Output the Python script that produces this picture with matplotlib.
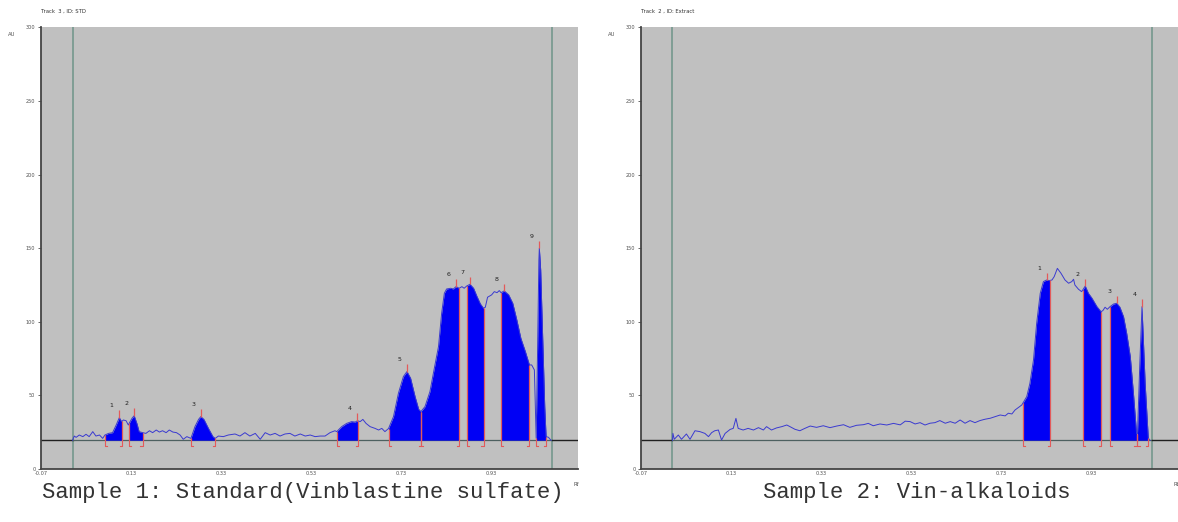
import numpy as np
import matplotlib
matplotlib.use("Agg")
import matplotlib.pyplot as plt

# densitogram readings (Rf, AU)
s1_rf = [0.000, 0.004, 0.008, 0.015, 0.023, 0.030, 0.037, 0.045, 0.052, 0.060,
         0.067, 0.072, 0.080, 0.089, 0.097, 0.104, 0.109, 0.113, 0.119, 0.124,
         0.132, 0.137, 0.143, 0.148, 0.156, 0.163, 0.171, 0.178, 0.186, 0.193,
         0.200, 0.208, 0.215, 0.223, 0.231, 0.239, 0.246, 0.254, 0.263, 0.272,
         0.280, 0.285, 0.292, 0.302, 0.312, 0.317, 0.324, 0.335, 0.346, 0.361,
         0.372, 0.383, 0.394, 0.406, 0.417, 0.428, 0.439, 0.450, 0.461, 0.472,
         0.483, 0.494, 0.506, 0.517, 0.528, 0.539, 0.550, 0.561, 0.572, 0.583,
         0.587, 0.598, 0.609, 0.620, 0.628, 0.633, 0.639, 0.645, 0.652, 0.661,
         0.672, 0.680, 0.687, 0.694, 0.702, 0.713, 0.724, 0.735, 0.743, 0.751,
         0.761, 0.769, 0.774, 0.783, 0.794, 0.803, 0.813, 0.820, 0.826, 0.831,
         0.840, 0.846, 0.852, 0.859, 0.865, 0.870, 0.876, 0.883, 0.891, 0.898,
         0.906, 0.913, 0.917, 0.922, 0.931, 0.937, 0.943, 0.948, 0.952, 0.959,
         0.969, 0.978, 0.987, 0.996, 1.006, 1.015, 1.020, 1.026, 1.029, 1.030,
         1.033, 1.036, 1.037, 1.040, 1.045, 1.049, 1.052, 1.057, 1.063]
s1_au = [19.5, 22.4, 21.5, 23.1, 22.0, 23.6, 22.0, 25.4, 22.4, 23.1,
         20.8, 23.1, 24.2, 24.7, 29.9, 34.9, 32.2, 33.3, 32.8, 29.9,
         34.4, 36.2, 31.0, 25.4, 24.7, 24.2, 26.0, 24.7, 26.5, 25.1,
         26.0, 24.7, 26.5, 25.1, 24.7, 23.1, 20.2, 22.0, 20.8, 28.8,
         33.7, 35.6, 33.7, 27.6, 22.0, 20.8, 22.4, 22.0, 23.1, 23.8,
         22.4, 24.7, 22.4, 24.2, 20.2, 24.7, 23.1, 24.2, 22.4, 23.8,
         24.2, 22.4, 23.8, 22.4, 23.1, 22.0, 22.4, 22.4, 24.7, 26.0,
         25.4, 28.8, 31.0, 32.2, 31.9, 32.8, 32.2, 33.7, 31.0, 28.8,
         27.6, 26.5, 27.6, 25.4, 27.5, 35.6, 51.5, 62.8, 66.2, 61.7,
         49.2, 40.6, 39.0, 42.4, 52.6, 67.3, 83.2, 105.8, 119.4, 122.3,
         122.8, 122.3, 123.9, 122.8, 123.9, 122.8, 124.4, 125.5, 122.8, 117.6,
         112.2, 109.2, 109.9, 116.7, 118.3, 120.5, 119.8, 121.2, 119.8, 121.0,
         118.3, 112.6, 101.3, 88.8, 79.8, 70.7, 70.7, 67.3, 33.4, 20.9,
         78.6, 142.0, 150.0, 135.2, 83.2, 42.4, 22.0, 21.6, 19.5]
s1_peaks = [(0.072, 0.111), (0.126, 0.156), (0.263, 0.316), (0.587, 0.634),
            (0.702, 0.774), (0.774, 0.859), (0.876, 0.913), (0.952, 1.015),
            (1.030, 1.052)]

s2_rf = [0.000, 0.001, 0.004, 0.013, 0.020, 0.031, 0.039, 0.050, 0.061, 0.072,
         0.080, 0.087, 0.094, 0.102, 0.109, 0.117, 0.128, 0.135, 0.141, 0.146,
         0.157, 0.168, 0.180, 0.191, 0.202, 0.209, 0.220, 0.231, 0.243, 0.254,
         0.261, 0.272, 0.283, 0.294, 0.306, 0.320, 0.335, 0.350, 0.365, 0.380,
         0.394, 0.409, 0.424, 0.435, 0.446, 0.461, 0.476, 0.491, 0.506, 0.517,
         0.528, 0.539, 0.550, 0.561, 0.572, 0.583, 0.594, 0.606, 0.617, 0.628,
         0.639, 0.650, 0.661, 0.672, 0.683, 0.694, 0.706, 0.717, 0.728, 0.739,
         0.746, 0.754, 0.761, 0.769, 0.776, 0.787, 0.794, 0.802, 0.809, 0.817,
         0.824, 0.831, 0.837, 0.843, 0.848, 0.855, 0.863, 0.872, 0.880, 0.887,
         0.891, 0.894, 0.902, 0.909, 0.917, 0.924, 0.932, 0.943, 0.952, 0.956,
         0.961, 0.966, 0.972, 0.980, 0.987, 0.994, 1.002, 1.009, 1.017, 1.024,
         1.031, 1.033, 1.038, 1.043, 1.050, 1.057, 1.061]
s2_au = [19.5, 24.2, 20.2, 23.1, 20.2, 23.8, 20.2, 26.0, 25.4, 24.2,
         22.0, 24.7, 26.0, 26.5, 19.7, 24.2, 26.9, 27.6, 34.4, 27.6,
         26.5, 27.6, 26.5, 28.1, 26.5, 28.8, 26.5, 27.9, 28.8, 29.9,
         28.8, 27.0, 26.0, 27.6, 29.2, 28.3, 29.4, 28.1, 29.2, 30.1,
         28.3, 29.7, 30.1, 31.0, 29.4, 30.6, 29.9, 31.0, 30.0, 32.5,
         32.2, 30.6, 31.5, 29.9, 31.1, 31.5, 32.9, 31.1, 32.2, 31.1,
         33.3, 31.1, 32.9, 31.5, 32.9, 33.8, 34.5, 35.6, 36.7, 36.1,
         37.9, 37.4, 40.1, 41.9, 43.5, 49.2, 58.2, 74.1, 99.0, 119.4,
         127.3, 128.4, 128.0, 128.4, 130.7, 136.3, 133.0, 128.4, 126.2, 127.3,
         128.9, 125.0, 122.1, 120.5, 124.3, 119.4, 116.0, 110.3, 106.9, 107.6,
         109.9, 108.5, 110.3, 112.1, 112.6, 109.9, 103.5, 92.2, 76.4, 51.4,
         24.0, 24.0, 70.0, 110.3, 58.2, 20.9, 19.5]
s2_peaks = [(0.778, 0.839), (0.911, 0.952), (0.972, 1.031), (1.033, 1.057)]

baseline = 19.6
start_line = 0.0
front_line = 1.065
rf_ticks = [-0.07, 0.13, 0.33, 0.53, 0.73, 0.93]
au_ticks = [0, 50, 100, 150, 200, 250, 300]
tracks = ["Track  3 , ID: STD", "Track  2 , ID: Extract"]
captions = ["Sample 1: Standard(Vinblastine sulfate)", "Sample 2: Vin-alkaloids"]

RED = "#e35a5a"
TXT = "#505050"


def draw(ax, rf, au, peaks, track):
    rf = np.array(rf)
    au = np.array(au)
    ax.set_facecolor("#c0c0c0")
    ax.set_xlim(-0.07, 1.123)
    ax.set_ylim(0, 300)

    ax.axvline(start_line, color="#6f9488", lw=1.1, zorder=1)
    ax.axvline(front_line, color="#6f9488", lw=1.1, zorder=1)
    ax.plot([-0.07, start_line], [baseline] * 2, color="#202020", lw=1.0, zorder=2)
    ax.plot([start_line, front_line], [baseline] * 2, color="#4d6060", lw=0.9, zorder=2)
    ax.plot([front_line, 1.123], [baseline] * 2, color="#202020", lw=1.0, zorder=2)

    for i, (a, b) in enumerate(peaks):
        inside = (rf > a) & (rf < b)
        xs = np.concatenate([[a], rf[inside], [b]])
        ys = np.interp(xs, rf, au)
        ax.fill_between(xs, baseline, ys, color="#0000f5", lw=0, zorder=3)
        ax.vlines([a, b], baseline, [ys[0], ys[-1]], color=RED, lw=0.9, zorder=5)
        # brackets under the baseline
        ax.plot([a + 0.005, a, a], [baseline - 4, baseline - 4, baseline], color=RED, lw=0.8, zorder=5)
        ax.plot([b - 0.005, b, b], [baseline - 4, baseline - 4, baseline], color=RED, lw=0.8, zorder=5)
        k = np.argmax(ys)
        ax.vlines(xs[k], ys[k], ys[k] + 5, color=RED, lw=0.9, zorder=5)
        ax.annotate(str(i + 1), (xs[k], ys[k]), xytext=(-5.5, 8.5),
                    textcoords="offset points", ha="center", va="center",
                    fontsize=4.5, color="#202020")

    ax.plot(rf, au, color="#3a3ad0", lw=0.7, zorder=4)

    for s in ["top", "right"]:
        ax.spines[s].set_visible(False)
    for s in ["left", "bottom"]:
        ax.spines[s].set_color("#444444")
        ax.spines[s].set_linewidth(1.3)
    ax.set_xticks(rf_ticks)
    ax.set_xticklabels([f"{t:.2f}" for t in rf_ticks])
    ax.set_yticks(au_ticks)
    ax.tick_params(axis="both", labelsize=3.6, colors=TXT, length=2.5, width=0.6, pad=1.5)
    ax.tick_params(axis="x", length=0)
    ax.text(-0.054, 0.985, "AU", transform=ax.transAxes, fontsize=3.8, color=TXT,
            ha="center", va="center")
    ax.text(0.997, -0.035, "Rf", transform=ax.transAxes, fontsize=3.8, color=TXT,
            ha="center", va="center")
    ax.text(0.0, 1.037, track, transform=ax.transAxes, fontsize=3.8, color="#303030",
            ha="left", va="center")


fig = plt.figure(figsize=(11.78, 5.22), dpi=100)
ax1 = fig.add_axes([0.0348, 0.1015, 0.4559, 0.846])
ax2 = fig.add_axes([0.5441, 0.1015, 0.4559, 0.846])
draw(ax1, s1_rf, s1_au, s1_peaks, tracks[0])
draw(ax2, s2_rf, s2_au, s2_peaks, tracks[1])

fig.text(0.2572, 0.057, captions[0], ha="center", va="center",
         fontsize=16, family="Liberation Mono", color="#333333")
fig.text(0.7784, 0.057, captions[1], ha="center", va="center",
         fontsize=16, family="Liberation Mono", color="#333333")

fig.savefig("out.png", dpi=100)
